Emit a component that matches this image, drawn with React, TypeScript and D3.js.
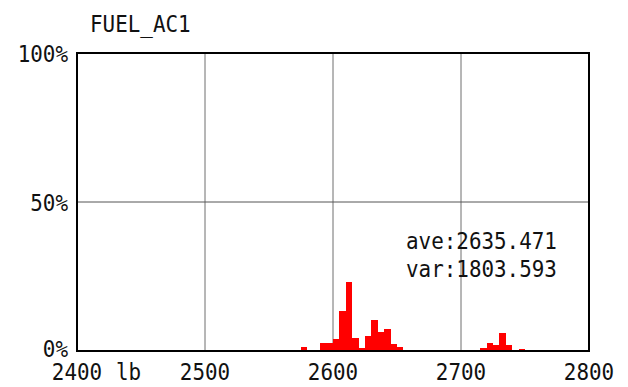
import React from "react";
import * as d3 from "d3";

// Histogram of FUEL_AC1 weights in 5 lb bins (percent of samples)
const binStarts = [2575, 2590, 2595, 2600, 2605, 2610, 2615, 2620, 2625, 2630, 2635, 2640, 2645, 2650, 2715, 2720, 2725, 2730, 2735, 2745];
const binPercents = [1.3, 2.8, 2.8, 4, 13.5, 23, 4.5, 1, 5.2, 10.3, 6.4, 7.5, 2.3, 1.3, 1, 2.7, 2, 6, 2, 0.8];
const binWidth = 5;

const xTicks = [2400, 2500, 2600, 2700, 2800];
const yTicks = [0, 50, 100];

const title = "FUEL_AC1";
const unit = "lb";
const statLines = ["ave:2635.471", "var:1803.593"];

const W = 628;
const H = 387;
const M = { left: 77, right: 39, top: 53, bottom: 36 };

const FONT = "'DejaVu Sans Mono', 'Liberation Mono', monospace";

function Label(props: { x: number; y: number; anchor?: string; children: React.ReactNode }) {
  const { x, y, anchor = "start", children } = props;
  return (
    <text
      transform={`translate(${x},${y}) scale(1.02,1.12)`}
      textAnchor={anchor}
      fontFamily={FONT}
      fontSize={20.5}
      fill="#111"
    >
      {children}
    </text>
  );
}

export default function App() {
  const x = d3.scaleLinear().domain([2400, 2800]).range([M.left, W - M.right]);
  const y = d3.scaleLinear().domain([0, 100]).range([H - M.bottom, M.top]);

  const x0 = x(2400);
  const x1 = x(2800);
  const y0 = y(0);
  const y1 = y(100);

  return (
    <svg
      width={W}
      height={H}
      style={{ position: "absolute", left: 0, top: 0, background: "#fff" }}
    >
      <rect x={0} y={0} width={W} height={H} fill="#fff" />

      {/* grid */}
      {xTicks.slice(1, -1).map((t) => (
        <line key={`gx${t}`} x1={x(t)} x2={x(t)} y1={y1} y2={y0} stroke="#6e6e6e" strokeWidth={1} />
      ))}
      {yTicks.slice(1, -1).map((t) => (
        <line key={`gy${t}`} x1={x0} x2={x1} y1={y(t)} y2={y(t)} stroke="#555" strokeWidth={1} />
      ))}

      {/* bars */}
      {binStarts.map((b, i) => (
        <rect
          key={`b${b}`}
          x={x(b)}
          y={y(binPercents[i])}
          width={x(b + binWidth) - x(b)}
          height={y0 - y(binPercents[i])}
          fill="#ff0000"
          shapeRendering="crispEdges"
        />
      ))}

      {/* frame */}
      <rect x={x0} y={y1} width={x1 - x0} height={y0 - y1} fill="none" stroke="#000" strokeWidth={2} />

      {/* y tick labels */}
      {yTicks.map((t) => (
        <Label key={`yl${t}`} x={68} y={t === 0 ? y(t) + 6 : y(t) + 9} anchor="end">
          {`${t}%`}
        </Label>
      ))}

      {/* x tick labels */}
      {xTicks.map((t) => (
        <Label key={`xl${t}`} x={x(t)} y={380} anchor="middle">
          {String(t)}
        </Label>
      ))}
      <Label x={116} y={380}>{unit}</Label>

      {/* title */}
      <Label x={90} y={32}>{title}</Label>

      {/* statistics */}
      {statLines.map((s, i) => (
        <Label key={s} x={406} y={249 + i * 28}>
          {s}
        </Label>
      ))}
    </svg>
  );
}
